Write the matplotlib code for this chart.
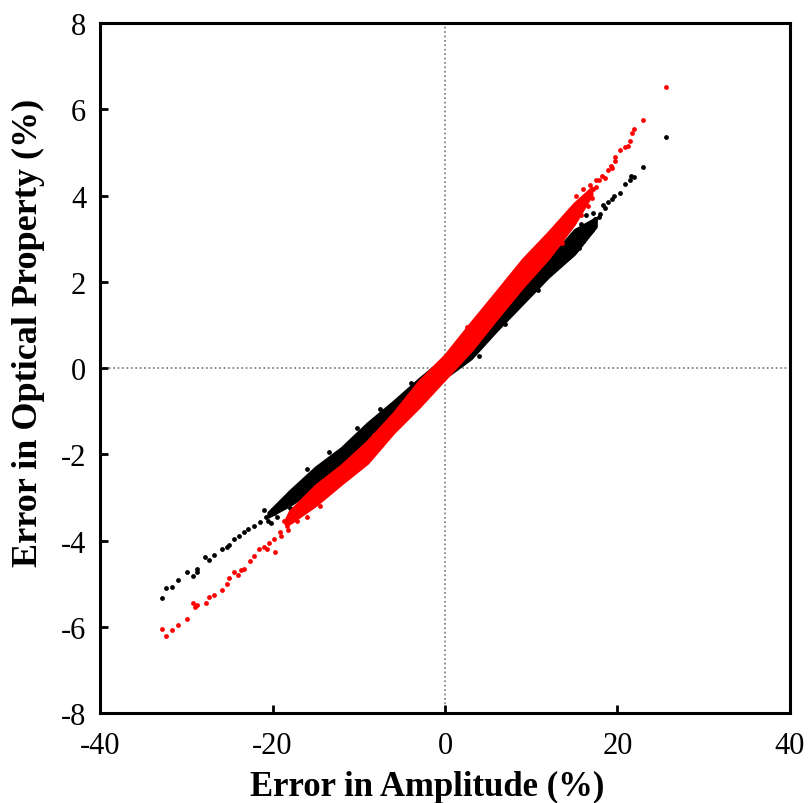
import matplotlib
matplotlib.use("Agg")
import matplotlib.pyplot as plt

plt.rcParams['font.family'] = ['Liberation Serif', 'DejaVu Serif']
plt.rcParams['axes.unicode_minus'] = False

# dense core of each cloud: amplitude error vs lower / upper edge of optical property error
black_core_x = [-20.5, -18, -15, -12, -9, -6, -3, 0, 3, 6, 9, 12, 15, 17.5]
black_core_lo = [-3.45, -3.18, -2.78, -2.32, -1.82, -1.30, -0.78, -0.22, 0.22, 0.88, 1.50, 2.12, 2.65, 3.28]
black_core_hi = [-3.35, -2.85, -2.30, -1.85, -1.28, -0.78, -0.25, 0.25, 0.62, 1.22, 1.88, 2.50, 3.20, 3.48]

red_core_x = [-18.5, -18, -15, -12, -9, -6, -3, 0, 3, 6, 9, 12, 15, 17]
red_core_lo = [-3.62, -3.60, -3.18, -2.68, -2.20, -1.50, -0.90, -0.25, 0.40, 1.15, 1.88, 2.55, 3.35, 4.02]
red_core_hi = [-3.52, -3.32, -2.72, -2.25, -1.70, -1.05, -0.30, 0.30, 1.05, 1.78, 2.52, 3.15, 3.82, 4.18]

# individual points (tails and edges)
black_x = [-32.8, -32.3, -31.7, -31.0, -29.9, -29.2, -28.8, -28.7, -27.8, -27.4, -26.8,
           -25.9, -25.3, -25.1, -24.5, -23.9, -23.3, -22.9, -22.2, -21.4, -20.8, -19.8,
           -19.1, -18.3, -17.5, -16.9, -21.0, -20.2, -20.5, -20.0, -19.5, -18.8, -18.0,
           -17.8, -17.2, -16.5, -16.0, -13.5, -10.2, -7.5, -4.0,
           3.9, 7.0, 10.8, 13.0, 15.5, 15.8, 16.0, 16.4, 16.8, 17.0, 17.2, 17.4, 17.8,
           18.0, 18.3, 18.6, 18.9, 19.4, 19.6, 20.3, 20.9, 21.4, 21.6, 21.9, 22.9, 25.6]
black_y = [-5.34, -5.09, -5.07, -4.92, -4.74, -4.82, -4.65, -4.74, -4.39, -4.45, -4.34,
           -4.20, -4.15, -4.10, -3.97, -3.89, -3.81, -3.74, -3.66, -3.58, -3.46, -3.35,
           -3.23, -3.08, -2.96, -2.85, -3.30, -3.60, -3.55, -3.35, -3.45, -3.15, -3.25,
           -3.00, -2.85, -2.95, -2.35, -1.95, -1.38, -0.95, -0.35,
           0.28, 1.02, 1.82, 2.58, 2.78, 3.35, 2.95, 3.55, 3.15, 3.20, 3.60, 3.45, 3.50,
           3.58, 3.77, 3.70, 3.84, 3.92, 4.00, 4.05, 4.27, 4.37, 4.45, 4.42, 4.67, 5.35]

red_x = [-32.8, -32.3, -31.7, -31.0, -29.9, -29.2, -29.0, -28.8, -27.7, -27.4, -26.8,
         -25.9, -25.3, -25.0, -24.5, -24.0, -23.7, -23.3, -22.6, -22.2, -21.6, -21.0,
         -20.6, -20.4, -19.8, -19.7, -19.1, -19.0, -18.7, -18.3, -18.2, -17.8, -17.5,
         -17.2, -16.9, -16.5, -16.0, -15.5, -14.5, -11.0, -8.2,
         -4.8, -1.5, 2.5, 5.0, 8.0, 11.2, 13.6, 15.2, 15.8, 16.0, 16.3, 16.6, 16.8,
         17.0, 17.2, 17.5, 17.5, 17.8, 18.2, 18.5, 18.9, 19.3, 19.4, 19.7, 19.7, 20.3,
         20.9, 21.2, 21.4, 21.7, 21.9, 22.9, 25.6]
red_y = [-6.04, -6.21, -6.08, -5.96, -5.81, -5.45, -5.55, -5.50, -5.46, -5.32, -5.26,
         -5.14, -5.00, -4.88, -4.73, -4.80, -4.68, -4.65, -4.47, -4.36, -4.20, -4.16,
         -4.20, -4.05, -3.97, -4.27, -3.81, -3.90, -3.55, -3.66, -3.75, -3.48, -3.43,
         -3.55, -3.35, -3.20, -3.45, -3.00, -3.20, -2.10, -1.55,
         -1.20, -0.05, 0.95, 1.05, 2.05, 2.95, 2.90, 4.00, 3.55, 4.15, 3.95, 3.75, 4.25,
         3.95, 4.15, 4.35, 4.20, 4.35, 4.46, 4.40, 4.59, 4.69, 4.64, 4.79, 4.89, 5.06,
         5.13, 5.16, 5.27, 5.45, 5.55, 5.75, 6.51]

fig = plt.figure(figsize=(8.08, 8.04), dpi=100)
ax = fig.add_axes([0.1238, 0.1119, 0.8539, 0.8582])

ax.axhline(0, color='0.45', ls=':', lw=1.2, zorder=0)
ax.axvline(0, color='0.45', ls=':', lw=1.2, zorder=0)

ax.fill_between(black_core_x, black_core_lo, black_core_hi, color='black', lw=2, edgecolor='black')
ax.scatter(black_x, black_y, s=12, color='black', lw=0)
ax.fill_between(red_core_x, red_core_lo, red_core_hi, color='red', lw=2, edgecolor='red')
ax.scatter(red_x, red_y, s=12, color='red', lw=0)

ax.set_xlim(-40, 40)
ax.set_ylim(-8, 8)
ax.set_xticks([-40, -20, 0, 20, 40])
ax.set_yticks(range(-8, 9, 2))
ax.tick_params(direction='in', length=6, width=2, labelsize=22)
ax.tick_params(axis='x', pad=13)
ax.tick_params(axis='y', pad=10)
for sp in ax.spines.values():
    sp.set_linewidth(2.2)

ax.set_xlabel('Error in Amplitude (%)', fontsize=25, fontweight='bold')
ax.set_ylabel('Error in Optical Property (%)', fontsize=26, fontweight='bold')
ax.xaxis.set_label_coords(0.474, -0.082)
ax.yaxis.set_label_coords(-0.08, 0.552)

fig.savefig('out.png', dpi=100)
